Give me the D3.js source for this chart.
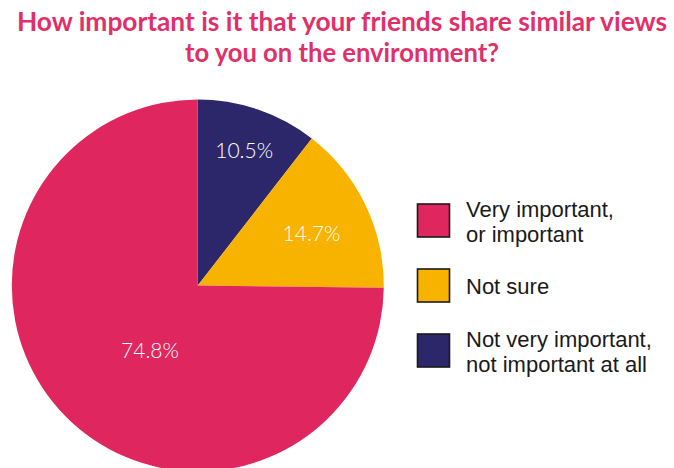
<!DOCTYPE html>
<html>
<head>
<meta charset="utf-8">
<script src="https://cdn.jsdelivr.net/npm/d3@7"></script>
<style>
  html, body { margin: 0; padding: 0; background: #fff; }
  svg { display: block; }
</style>
</head>
<body>
<svg id="chart" width="674" height="468"></svg>
<script>
// Survey answers, in clockwise order from 12 o'clock
const categories = ["Not very important, not important at all", "Not sure", "Very important, or important"];
const shares = [10.5, 14.7, 74.8];
const valueLabels = ["10.5%", "14.7%", "74.8%"];

// Legend order and wrapped lines
const legendOrder = [2, 1, 0];
const legendLines = [
  ["Very important,", "or important"],
  ["Not sure"],
  ["Not very important,", "not important at all"]
];

const titleLines = [
  "How important is it that your friends share similar views",
  "to you on the environment?"
];

const colors = ["#2C276B", "#F8B300", "#E0265F"];

const svg = d3.select("#chart");

// Title
const title = svg.append("g");
const titleWidths = [650, 314];
titleLines.forEach((t, i) => {
  title.append("text")
    .attr("x", 342)
    .attr("y", 31 + i * 31)
    .attr("text-anchor", "middle")
    .attr("font-family", "Lato, 'Open Sans', sans-serif")
    .attr("font-weight", 700)
    .attr("font-size", 26)
    .attr("fill", "#E0306A")
    .attr("textLength", titleWidths[i])
    .attr("lengthAdjust", "spacingAndGlyphs")
    .text(t);
});

// Pie
const cx = 197.8, cy = 285.5, R = 186;
const pie = d3.pie().sort(null).value(d => d)(shares);
const arc = d3.arc().innerRadius(0).outerRadius(R);

const g = svg.append("g").attr("transform", `translate(${cx},${cy})`);
g.selectAll("path.slice")
  .data(pie)
  .join("path")
  .attr("class", "slice")
  .attr("d", arc)
  .attr("fill", (d, i) => colors[i]);

// Label placement along each slice: radius and angular nudge (radians)
const labelPlace = [
  { r: 143, shift: 0 },
  { r: 125, shift: 0.02 },
  { r: 81, shift: -0.16 }
];
g.selectAll("text.val")
  .data(pie)
  .join("text")
  .attr("class", "val")
  .attr("transform", (d, i) => {
    const p = labelPlace[i];
    const a = (d.startAngle + d.endAngle) / 2 + p.shift;
    const x = Math.sin(a) * p.r, y = -Math.cos(a) * p.r;
    return `translate(${x},${y})`;
  })
  .attr("dy", "0.35em")
  .attr("text-anchor", "middle")
  .attr("font-family", "Lato, sans-serif")
  .attr("font-weight", 300)
  .attr("font-size", 21)
  .attr("fill", "#fff")
  .text((d, i) => valueLabels[i]);

// Legend
const legend = svg.append("g");
const rowY = [220.5, 285.5, 350.5];
legendOrder.forEach((idx, row) => {
  const y = rowY[row];
  legend.append("rect")
    .attr("x", 417.5)
    .attr("y", y - 16.5)
    .attr("width", 32)
    .attr("height", 33)
    .attr("fill", colors[idx])
    .attr("stroke", "#1a1a1a")
    .attr("stroke-width", 1.6);
  const lines = legendLines[row];
  const lh = 25;
  const top = y + 1 - (lines.length - 1) * lh / 2;
  lines.forEach((ln, j) => {
    legend.append("text")
      .attr("x", 466)
      .attr("y", top + j * lh)
      .attr("dy", "0.35em")
      .attr("font-family", "'Liberation Sans', Arial, sans-serif")
      .attr("font-size", 22)
      .attr("fill", "#1a1a1a")
      .text(ln);
  });
});
</script>
</body>
</html>
